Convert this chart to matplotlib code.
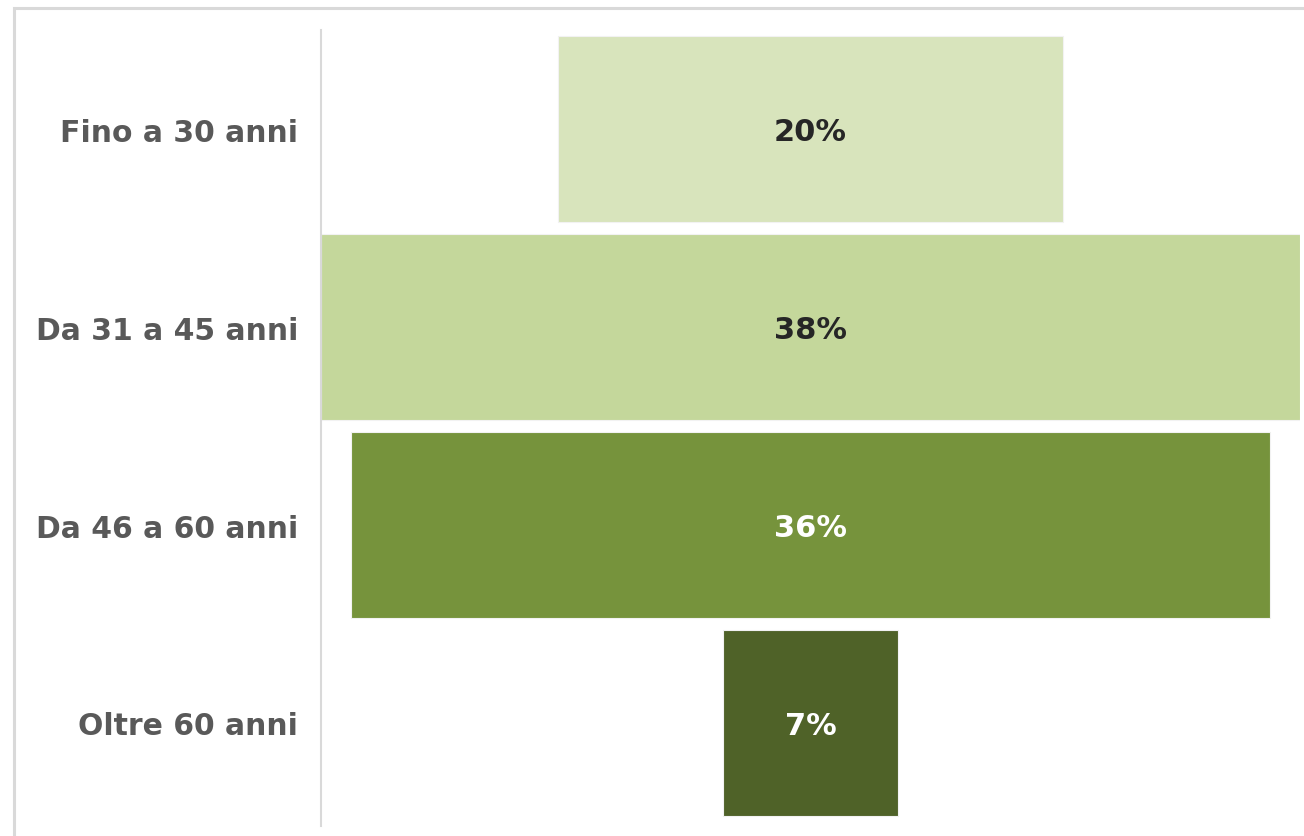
import matplotlib
matplotlib.use("Agg")
import matplotlib.pyplot as plt
from matplotlib.patches import Rectangle

plt.rcParams["font.family"] = ["DejaVu Sans"]

# age groups, top to bottom, and share of respondents (%)
categories = ["Fino a 30 anni", "Da 31 a 45 anni", "Da 46 a 60 anni", "Oltre 60 anni"]
values = [19.6, 38.0, 35.7, 6.8]
colors = ["#D8E4BC", "#C4D79B", "#76933C", "#4F6228"]
text_colors = ["#262626", "#262626", "#FFFFFF", "#FFFFFF"]

fig = plt.figure(figsize=(13.04, 8.37), dpi=100)
W, H = 1304, 837

# light grey chart-area frame, running off the right/bottom edge
fig.patches.append(Rectangle((14 / W, -0.1), 1.2, 1 - 9 / H + 0.1,
                             transform=fig.transFigure, fill=False,
                             ec="#D9D9D9", lw=2.2))

ax = fig.add_axes([321 / W, 1 - 823 / H, 979 / W, 792 / H])
vmax = max(values)
y = range(len(categories))
lefts = [(vmax - v) / 2 for v in values]
ax.barh(y, values, left=lefts, height=0.935, color=colors,
        edgecolor="#F2F2F2", linewidth=0.8)
for i, v in enumerate(values):
    ax.annotate(f"{v:.0f}%", (vmax / 2, i), xytext=(0, -2),
                textcoords="offset points", ha="center", va="center",
                fontsize=22, fontweight="bold", color=text_colors[i])

ax.set_xlim(0, vmax)
ax.set_ylim(len(categories) - 0.5, -0.5)
ax.set_yticks(list(y))
ax.set_yticklabels(categories, fontsize=21.5, fontweight="bold", color="#595959")
ax.tick_params(axis="y", length=0, pad=16.5)
ax.set_xticks([])
for s in ["top", "right", "bottom"]:
    ax.spines[s].set_visible(False)
ax.spines["left"].set_color("#D9D9D9")
ax.spines["left"].set_linewidth(1.5)
ax.spines["left"].set_bounds(len(categories) - 0.48, -0.5)

fig.savefig("out.png", dpi=100)
